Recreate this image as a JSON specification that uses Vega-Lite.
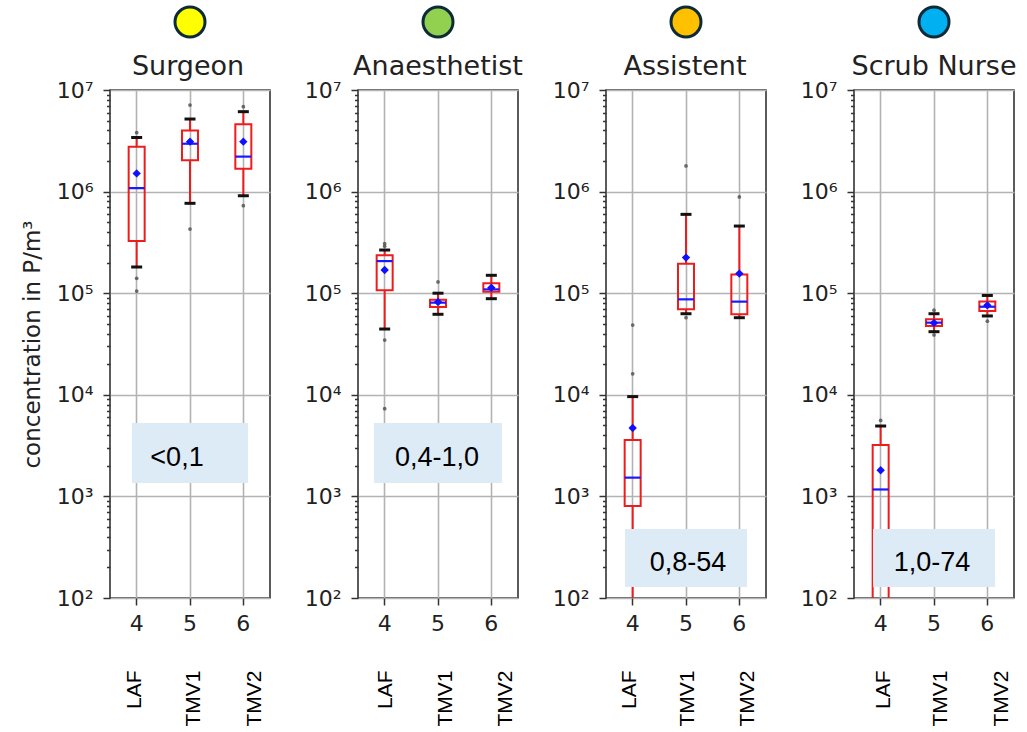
{
"$schema": "https://vega.github.io/schema/vega-lite/v6.json",
"background": "white",
"padding": {"left": 20, "top": 0, "right": 0, "bottom": 0},
"bounds": "flush",
"spacing": 88,
"datasets": {
"stats": [
{"role":"Surgeon","g":"4","lo":181000,"q1":327000,"med":1080000,"q3":2770000,"hi":3400000,"mean":1510000},
{"role":"Surgeon","g":"5","lo":767000,"q1":2030000,"med":2960000,"q3":4000000,"hi":5180000,"mean":3100000},
{"role":"Surgeon","g":"6","lo":910000,"q1":1680000,"med":2210000,"q3":4600000,"hi":6120000,"mean":3100000},
{"role":"Anaesthetist","g":"4","lo":44400,"q1":107000,"med":207000,"q3":236000,"hi":266000,"mean":169000},
{"role":"Anaesthetist","g":"5","lo":62000,"q1":73000,"med":80700,"q3":86300,"hi":100000,"mean":82000},
{"role":"Anaesthetist","g":"6","lo":88300,"q1":103500,"med":109000,"q3":125000,"hi":150000,"mean":113000},
{"role":"Assistent","g":"4","lo":30,"q1":805,"med":1530,"q3":3590,"hi":9600,"mean":4710},
{"role":"Assistent","g":"5","lo":62800,"q1":69400,"med":87000,"q3":195000,"hi":597000,"mean":224000},
{"role":"Assistent","g":"6","lo":57400,"q1":62000,"med":82600,"q3":153000,"hi":458000,"mean":156000},
{"role":"Scrub Nurse","g":"4","lo":10,"q1":60,"med":1170,"q3":3200,"hi":4930,"mean":1810},
{"role":"Scrub Nurse","g":"5","lo":41800,"q1":47500,"med":51300,"q3":55300,"hi":62800,"mean":51000},
{"role":"Scrub Nurse","g":"6","lo":59700,"q1":66800,"med":73600,"q3":82700,"hi":95000,"mean":76000}
],
"outliers": [
{"role":"Surgeon","g":"4","v":3800000},{"role":"Surgeon","g":"4","v":140000},{"role":"Surgeon","g":"4","v":105000},
{"role":"Surgeon","g":"5","v":7100000},{"role":"Surgeon","g":"5","v":428000},
{"role":"Surgeon","g":"6","v":6860000},{"role":"Surgeon","g":"6","v":726000},
{"role":"Anaesthetist","g":"4","v":307000},{"role":"Anaesthetist","g":"4","v":290000},{"role":"Anaesthetist","g":"4","v":34600},{"role":"Anaesthetist","g":"4","v":7300},
{"role":"Anaesthetist","g":"5","v":129000},
{"role":"Assistent","g":"4","v":48600},{"role":"Assistent","g":"4","v":16100},
{"role":"Assistent","g":"5","v":1790000},{"role":"Assistent","g":"5","v":57400},
{"role":"Assistent","g":"6","v":885000},
{"role":"Scrub Nurse","g":"4","v":5600},
{"role":"Scrub Nurse","g":"5","v":68000},{"role":"Scrub Nurse","g":"5","v":38800},
{"role":"Scrub Nurse","g":"6","v":53000}
],
"annot": [
{"role":"Surgeon","range":"<0,1"},
{"role":"Anaesthetist","range":"0,4-1,0"},
{"role":"Assistent","range":"0,8-54"},
{"role":"Scrub Nurse","range":"1,0-74"}
]
},
"config": {
"font": "DejaVu Sans",
"view": {"stroke": "#333333", "strokeWidth": 1.6},
"axis": {"domain": false, "labelFont": "DejaVu Sans", "labelFontSize": 22, "labelColor": "#222222", "tickColor": "#333333", "tickWidth": 1.5, "gridColor": "#b3b3b3", "gridWidth": 1.6, "titleFont": "DejaVu Sans", "titleFontWeight": "normal", "titleFontSize": 23, "titleColor": "#222222"}
},
"hconcat": [
{
"width": 160, "height": 508,
"layer": [
{"data": {"name": "stats"}, "transform": [{"filter": "datum.role==='Surgeon'"}],
 "mark": {"type": "rule", "color": "#ee1c1c", "strokeWidth": 2, "clip": true},
 "encoding": {
  "x": {"field": "g", "type": "nominal", "scale": {"type": "band", "domain": ["4","5","6"], "paddingInner": 0, "paddingOuter": 0},
        "axis": {"orient": "bottom", "labelAngle": 0, "title": null, "tickSize": 7, "labelPadding": 8, "bandPosition": 0.5, "grid": true}},
  "y": {"field": "lo", "type": "quantitative", "scale": {"type": "log", "domain": [100, 10000000], "nice": false},
        "axis": {"orient": "left", "values": [100,1000,10000,100000,1000000,10000000],
                 "labelExpr": "'10'+substring('⁰¹²³⁴⁵⁶⁷⁸⁹',round(log(datum.value)/LN10),round(log(datum.value)/LN10)+1)",
                 "labelOverlap": false, "labelFlush": false, "labelPadding": 10, "grid": true, "tickSize": 7,
                 "title": "concentration in P/m³", "titlePadding": 12}},
  "y2": {"field": "q1"}}},
{"data": {"name": "stats"}, "transform": [{"filter": "datum.role==='Surgeon'"}],
 "mark": {"type": "rule", "color": "#ee1c1c", "strokeWidth": 2, "clip": true},
 "encoding": {"x": {"field": "g", "type": "nominal", "axis": null},
  "y": {"field": "q3", "type": "quantitative", "axis": {"orient": "left", "values": [200,300,400,500,600,700,800,900,2000,3000,4000,5000,6000,7000,8000,9000,20000,30000,40000,50000,60000,70000,80000,90000,200000,300000,400000,500000,600000,700000,800000,900000,2000000,3000000,4000000,5000000,6000000,7000000,8000000,9000000], "labels": false, "grid": false, "tickSize": 3.5, "title": null}},
  "y2": {"field": "hi"}}},
{"data": {"name": "stats"}, "transform": [{"filter": "datum.role==='Surgeon'"}],
 "mark": {"type": "bar", "width": 16, "fill": "transparent", "stroke": "#ee1c1c", "strokeWidth": 2, "clip": true},
 "encoding": {"x": {"field": "g", "type": "nominal", "axis": null}, "y": {"field": "q1", "type": "quantitative", "axis": null}, "y2": {"field": "q3"}}},
{"data": {"name": "stats"}, "transform": [{"filter": "datum.role==='Surgeon'"}],
 "mark": {"type": "tick", "color": "#1a1aff", "thickness": 2.2, "size": 16, "opacity": 1, "clip": true},
 "encoding": {"x": {"field": "g", "type": "nominal", "axis": null}, "y": {"field": "med", "type": "quantitative", "axis": null}}},
{"data": {"name": "stats"}, "transform": [{"filter": "datum.role==='Surgeon'"}],
 "mark": {"type": "tick", "color": "#111111", "thickness": 3, "size": 11, "opacity": 1, "clip": true},
 "encoding": {"x": {"field": "g", "type": "nominal", "axis": null}, "y": {"field": "lo", "type": "quantitative", "axis": null}}},
{"data": {"name": "stats"}, "transform": [{"filter": "datum.role==='Surgeon'"}],
 "mark": {"type": "tick", "color": "#111111", "thickness": 3, "size": 11, "opacity": 1, "clip": true},
 "encoding": {"x": {"field": "g", "type": "nominal", "axis": null}, "y": {"field": "hi", "type": "quantitative", "axis": null}}},
{"data": {"name": "outliers"}, "transform": [{"filter": "datum.role==='Surgeon'"}],
 "mark": {"type": "circle", "color": "#555555", "size": 14, "opacity": 0.85},
 "encoding": {"x": {"field": "g", "type": "nominal", "axis": null}, "y": {"field": "v", "type": "quantitative", "axis": null}}},
{"data": {"name": "stats"}, "transform": [{"filter": "datum.role==='Surgeon'"}],
 "mark": {"type": "point", "shape": "diamond", "filled": true, "color": "#1010ff", "size": 70, "opacity": 1},
 "encoding": {"x": {"field": "g", "type": "nominal", "axis": null}, "y": {"field": "mean", "type": "quantitative", "axis": null}}},
{"data": {"name": "annot"}, "transform": [{"filter": "datum.role==='Surgeon'"}],
 "mark": {"type": "bar", "width": 116, "color": "#ddebf7"},
 "encoding": {"x": {"datum": "5", "type": "nominal", "axis": null}, "y": {"datum": 5272, "type": "quantitative", "axis": null}, "y2": {"datum": 1355}}},
{"data": {"name": "annot"}, "transform": [{"filter": "datum.role==='Surgeon'"}],
 "mark": {"type": "text", "font": "Liberation Sans", "fontSize": 27, "color": "#000000", "dx": -13},
 "encoding": {"x": {"datum": "5", "type": "nominal", "axis": null}, "y": {"datum": 2388, "type": "quantitative", "axis": null}, "text": {"field": "range"}}},
{"data": {"name": "annot"}, "transform": [{"filter": "datum.role==='Surgeon'"}],
 "mark": {"type": "text", "font": "DejaVu Sans", "fontSize": 27, "color": "#222222", "baseline": "alphabetic", "dx": -2},
 "encoding": {"x": {"datum": "5", "type": "nominal", "axis": null}, "y": {"datum": 14060000, "type": "quantitative", "axis": null}, "text": {"field": "role"}}},
{"data": {"name": "annot"}, "transform": [{"filter": "datum.role==='Surgeon'"}],
 "mark": {"type": "point", "shape": "circle", "filled": true, "fill": "#ffff00", "stroke": "#0c2a38", "strokeWidth": 3, "size": 900, "opacity": 1},
 "encoding": {"x": {"datum": "5", "type": "nominal", "axis": null}, "y": {"datum": 46700000, "type": "quantitative", "axis": null}}},
{"data": {"name": "stats"}, "transform": [{"filter": "datum.role==='Surgeon'"}],
 "mark": {"type": "point", "opacity": 0},
 "encoding": {"x": {"field": "g", "type": "nominal",
   "axis": {"orient": "bottom", "title": null, "ticks": false, "domain": false, "grid": false, "labelAngle": 270, "labelAlign": "right", "labelBaseline": "middle", "labelFont": "Liberation Sans", "labelFontSize": 21, "labelColor": "#000000", "labelPadding": 72, "bandPosition": 0.5,
     "labelExpr": "datum.value==='4' ? 'LAF' : datum.value==='5' ? 'TMV1' : 'TMV2'",
     "labelOffset": {"condition": [{"test": "datum.value==='4'", "value": -2}, {"test": "datum.value==='5'", "value": 4}], "value": 12}}}}}
],
"resolve": {"axis": {"x": "independent", "y": "independent"}}
},
{
"width": 160, "height": 508,
"layer": [
{"data": {"name": "stats"}, "transform": [{"filter": "datum.role==='Anaesthetist'"}],
 "mark": {"type": "rule", "color": "#ee1c1c", "strokeWidth": 2, "clip": true},
 "encoding": {
  "x": {"field": "g", "type": "nominal", "scale": {"type": "band", "domain": ["4","5","6"], "paddingInner": 0, "paddingOuter": 0},
        "axis": {"orient": "bottom", "labelAngle": 0, "title": null, "tickSize": 7, "labelPadding": 8, "bandPosition": 0.5, "grid": true}},
  "y": {"field": "lo", "type": "quantitative", "scale": {"type": "log", "domain": [100, 10000000], "nice": false},
        "axis": {"orient": "left", "values": [100,1000,10000,100000,1000000,10000000],
                 "labelExpr": "'10'+substring('⁰¹²³⁴⁵⁶⁷⁸⁹',round(log(datum.value)/LN10),round(log(datum.value)/LN10)+1)",
                 "labelOverlap": false, "labelFlush": false, "labelPadding": 10, "grid": true, "tickSize": 7, "title": null}},
  "y2": {"field": "q1"}}},
{"data": {"name": "stats"}, "transform": [{"filter": "datum.role==='Anaesthetist'"}],
 "mark": {"type": "rule", "color": "#ee1c1c", "strokeWidth": 2, "clip": true},
 "encoding": {"x": {"field": "g", "type": "nominal", "axis": null},
  "y": {"field": "q3", "type": "quantitative", "axis": {"orient": "left", "values": [200,300,400,500,600,700,800,900,2000,3000,4000,5000,6000,7000,8000,9000,20000,30000,40000,50000,60000,70000,80000,90000,200000,300000,400000,500000,600000,700000,800000,900000,2000000,3000000,4000000,5000000,6000000,7000000,8000000,9000000], "labels": false, "grid": false, "tickSize": 3.5, "title": null}},
  "y2": {"field": "hi"}}},
{"data": {"name": "stats"}, "transform": [{"filter": "datum.role==='Anaesthetist'"}],
 "mark": {"type": "bar", "width": 16, "fill": "transparent", "stroke": "#ee1c1c", "strokeWidth": 2, "clip": true},
 "encoding": {"x": {"field": "g", "type": "nominal", "axis": null}, "y": {"field": "q1", "type": "quantitative", "axis": null}, "y2": {"field": "q3"}}},
{"data": {"name": "stats"}, "transform": [{"filter": "datum.role==='Anaesthetist'"}],
 "mark": {"type": "tick", "color": "#1a1aff", "thickness": 2.2, "size": 16, "opacity": 1, "clip": true},
 "encoding": {"x": {"field": "g", "type": "nominal", "axis": null}, "y": {"field": "med", "type": "quantitative", "axis": null}}},
{"data": {"name": "stats"}, "transform": [{"filter": "datum.role==='Anaesthetist'"}],
 "mark": {"type": "tick", "color": "#111111", "thickness": 3, "size": 11, "opacity": 1, "clip": true},
 "encoding": {"x": {"field": "g", "type": "nominal", "axis": null}, "y": {"field": "lo", "type": "quantitative", "axis": null}}},
{"data": {"name": "stats"}, "transform": [{"filter": "datum.role==='Anaesthetist'"}],
 "mark": {"type": "tick", "color": "#111111", "thickness": 3, "size": 11, "opacity": 1, "clip": true},
 "encoding": {"x": {"field": "g", "type": "nominal", "axis": null}, "y": {"field": "hi", "type": "quantitative", "axis": null}}},
{"data": {"name": "outliers"}, "transform": [{"filter": "datum.role==='Anaesthetist'"}],
 "mark": {"type": "circle", "color": "#555555", "size": 14, "opacity": 0.85},
 "encoding": {"x": {"field": "g", "type": "nominal", "axis": null}, "y": {"field": "v", "type": "quantitative", "axis": null}}},
{"data": {"name": "stats"}, "transform": [{"filter": "datum.role==='Anaesthetist'"}],
 "mark": {"type": "point", "shape": "diamond", "filled": true, "color": "#1010ff", "size": 70, "opacity": 1},
 "encoding": {"x": {"field": "g", "type": "nominal", "axis": null}, "y": {"field": "mean", "type": "quantitative", "axis": null}}},
{"data": {"name": "annot"}, "transform": [{"filter": "datum.role==='Anaesthetist'"}],
 "mark": {"type": "bar", "width": 128, "color": "#ddebf7"},
 "encoding": {"x": {"datum": "5", "type": "nominal", "axis": null}, "y": {"datum": 5272, "type": "quantitative", "axis": null}, "y2": {"datum": 1355}}},
{"data": {"name": "annot"}, "transform": [{"filter": "datum.role==='Anaesthetist'"}],
 "mark": {"type": "text", "font": "Liberation Sans", "fontSize": 27, "color": "#000000", "dx": -1},
 "encoding": {"x": {"datum": "5", "type": "nominal", "axis": null}, "y": {"datum": 2388, "type": "quantitative", "axis": null}, "text": {"field": "range"}}},
{"data": {"name": "annot"}, "transform": [{"filter": "datum.role==='Anaesthetist'"}],
 "mark": {"type": "text", "font": "DejaVu Sans", "fontSize": 27, "color": "#222222", "baseline": "alphabetic", "dx": 0},
 "encoding": {"x": {"datum": "5", "type": "nominal", "axis": null}, "y": {"datum": 14060000, "type": "quantitative", "axis": null}, "text": {"field": "role"}}},
{"data": {"name": "annot"}, "transform": [{"filter": "datum.role==='Anaesthetist'"}],
 "mark": {"type": "point", "shape": "circle", "filled": true, "fill": "#92d050", "stroke": "#0c2a38", "strokeWidth": 3, "size": 900, "opacity": 1},
 "encoding": {"x": {"datum": "5", "type": "nominal", "axis": null}, "y": {"datum": 46700000, "type": "quantitative", "axis": null}}},
{"data": {"name": "stats"}, "transform": [{"filter": "datum.role==='Anaesthetist'"}],
 "mark": {"type": "point", "opacity": 0},
 "encoding": {"x": {"field": "g", "type": "nominal",
   "axis": {"orient": "bottom", "title": null, "ticks": false, "domain": false, "grid": false, "labelAngle": 270, "labelAlign": "right", "labelBaseline": "middle", "labelFont": "Liberation Sans", "labelFontSize": 21, "labelColor": "#000000", "labelPadding": 72, "bandPosition": 0.5,
     "labelExpr": "datum.value==='4' ? 'LAF' : datum.value==='5' ? 'TMV1' : 'TMV2'",
     "labelOffset": {"condition": [{"test": "datum.value==='4'", "value": 1}, {"test": "datum.value==='5'", "value": 8}], "value": 15}}}}}
],
"resolve": {"axis": {"x": "independent", "y": "independent"}}
},
{
"width": 160, "height": 508,
"layer": [
{"data": {"name": "stats"}, "transform": [{"filter": "datum.role==='Assistent'"}],
 "mark": {"type": "rule", "color": "#ee1c1c", "strokeWidth": 2, "clip": true},
 "encoding": {
  "x": {"field": "g", "type": "nominal", "scale": {"type": "band", "domain": ["4","5","6"], "paddingInner": 0, "paddingOuter": 0},
        "axis": {"orient": "bottom", "labelAngle": 0, "title": null, "tickSize": 7, "labelPadding": 8, "bandPosition": 0.5, "grid": true}},
  "y": {"field": "lo", "type": "quantitative", "scale": {"type": "log", "domain": [100, 10000000], "nice": false},
        "axis": {"orient": "left", "values": [100,1000,10000,100000,1000000,10000000],
                 "labelExpr": "'10'+substring('⁰¹²³⁴⁵⁶⁷⁸⁹',round(log(datum.value)/LN10),round(log(datum.value)/LN10)+1)",
                 "labelOverlap": false, "labelFlush": false, "labelPadding": 10, "grid": true, "tickSize": 7, "title": null}},
  "y2": {"field": "q1"}}},
{"data": {"name": "stats"}, "transform": [{"filter": "datum.role==='Assistent'"}],
 "mark": {"type": "rule", "color": "#ee1c1c", "strokeWidth": 2, "clip": true},
 "encoding": {"x": {"field": "g", "type": "nominal", "axis": null},
  "y": {"field": "q3", "type": "quantitative", "axis": {"orient": "left", "values": [200,300,400,500,600,700,800,900,2000,3000,4000,5000,6000,7000,8000,9000,20000,30000,40000,50000,60000,70000,80000,90000,200000,300000,400000,500000,600000,700000,800000,900000,2000000,3000000,4000000,5000000,6000000,7000000,8000000,9000000], "labels": false, "grid": false, "tickSize": 3.5, "title": null}},
  "y2": {"field": "hi"}}},
{"data": {"name": "stats"}, "transform": [{"filter": "datum.role==='Assistent'"}],
 "mark": {"type": "bar", "width": 16, "fill": "transparent", "stroke": "#ee1c1c", "strokeWidth": 2, "clip": true},
 "encoding": {"x": {"field": "g", "type": "nominal", "axis": null}, "y": {"field": "q1", "type": "quantitative", "axis": null}, "y2": {"field": "q3"}}},
{"data": {"name": "stats"}, "transform": [{"filter": "datum.role==='Assistent'"}],
 "mark": {"type": "tick", "color": "#1a1aff", "thickness": 2.2, "size": 16, "opacity": 1, "clip": true},
 "encoding": {"x": {"field": "g", "type": "nominal", "axis": null}, "y": {"field": "med", "type": "quantitative", "axis": null}}},
{"data": {"name": "stats"}, "transform": [{"filter": "datum.role==='Assistent'"}],
 "mark": {"type": "tick", "color": "#111111", "thickness": 3, "size": 11, "opacity": 1, "clip": true},
 "encoding": {"x": {"field": "g", "type": "nominal", "axis": null}, "y": {"field": "lo", "type": "quantitative", "axis": null}}},
{"data": {"name": "stats"}, "transform": [{"filter": "datum.role==='Assistent'"}],
 "mark": {"type": "tick", "color": "#111111", "thickness": 3, "size": 11, "opacity": 1, "clip": true},
 "encoding": {"x": {"field": "g", "type": "nominal", "axis": null}, "y": {"field": "hi", "type": "quantitative", "axis": null}}},
{"data": {"name": "outliers"}, "transform": [{"filter": "datum.role==='Assistent'"}],
 "mark": {"type": "circle", "color": "#555555", "size": 14, "opacity": 0.85},
 "encoding": {"x": {"field": "g", "type": "nominal", "axis": null}, "y": {"field": "v", "type": "quantitative", "axis": null}}},
{"data": {"name": "stats"}, "transform": [{"filter": "datum.role==='Assistent'"}],
 "mark": {"type": "point", "shape": "diamond", "filled": true, "color": "#1010ff", "size": 70, "opacity": 1},
 "encoding": {"x": {"field": "g", "type": "nominal", "axis": null}, "y": {"field": "mean", "type": "quantitative", "axis": null}}},
{"data": {"name": "annot"}, "transform": [{"filter": "datum.role==='Assistent'"}],
 "mark": {"type": "bar", "width": 122, "color": "#ddebf7"},
 "encoding": {"x": {"datum": "5", "type": "nominal", "axis": null}, "y": {"datum": 478, "type": "quantitative", "axis": null}, "y2": {"datum": 128}}},
{"data": {"name": "annot"}, "transform": [{"filter": "datum.role==='Assistent'"}],
 "mark": {"type": "text", "font": "Liberation Sans", "fontSize": 27, "color": "#000000", "dx": 2},
 "encoding": {"x": {"datum": "5", "type": "nominal", "axis": null}, "y": {"datum": 221, "type": "quantitative", "axis": null}, "text": {"field": "range"}}},
{"data": {"name": "annot"}, "transform": [{"filter": "datum.role==='Assistent'"}],
 "mark": {"type": "text", "font": "DejaVu Sans", "fontSize": 27, "color": "#222222", "baseline": "alphabetic", "dx": -1},
 "encoding": {"x": {"datum": "5", "type": "nominal", "axis": null}, "y": {"datum": 14060000, "type": "quantitative", "axis": null}, "text": {"field": "role"}}},
{"data": {"name": "annot"}, "transform": [{"filter": "datum.role==='Assistent'"}],
 "mark": {"type": "point", "shape": "circle", "filled": true, "fill": "#ffc000", "stroke": "#0c2a38", "strokeWidth": 3, "size": 900, "opacity": 1},
 "encoding": {"x": {"datum": "5", "type": "nominal", "axis": null}, "y": {"datum": 46700000, "type": "quantitative", "axis": null}}},
{"data": {"name": "stats"}, "transform": [{"filter": "datum.role==='Assistent'"}],
 "mark": {"type": "point", "opacity": 0},
 "encoding": {"x": {"field": "g", "type": "nominal",
   "axis": {"orient": "bottom", "title": null, "ticks": false, "domain": false, "grid": false, "labelAngle": 270, "labelAlign": "right", "labelBaseline": "middle", "labelFont": "Liberation Sans", "labelFontSize": 21, "labelColor": "#000000", "labelPadding": 72, "bandPosition": 0.5,
     "labelExpr": "datum.value==='4' ? 'LAF' : datum.value==='5' ? 'TMV1' : 'TMV2'",
     "labelOffset": {"condition": [{"test": "datum.value==='4'", "value": -3}, {"test": "datum.value==='5'", "value": 2}], "value": 9}}}}}
],
"resolve": {"axis": {"x": "independent", "y": "independent"}}
},
{
"width": 160, "height": 508,
"layer": [
{"data": {"name": "stats"}, "transform": [{"filter": "datum.role==='Scrub Nurse'"}],
 "mark": {"type": "rule", "color": "#ee1c1c", "strokeWidth": 2, "clip": true},
 "encoding": {
  "x": {"field": "g", "type": "nominal", "scale": {"type": "band", "domain": ["4","5","6"], "paddingInner": 0, "paddingOuter": 0},
        "axis": {"orient": "bottom", "labelAngle": 0, "title": null, "tickSize": 7, "labelPadding": 8, "bandPosition": 0.5, "grid": true}},
  "y": {"field": "lo", "type": "quantitative", "scale": {"type": "log", "domain": [100, 10000000], "nice": false},
        "axis": {"orient": "left", "values": [100,1000,10000,100000,1000000,10000000],
                 "labelExpr": "'10'+substring('⁰¹²³⁴⁵⁶⁷⁸⁹',round(log(datum.value)/LN10),round(log(datum.value)/LN10)+1)",
                 "labelOverlap": false, "labelFlush": false, "labelPadding": 10, "grid": true, "tickSize": 7, "title": null}},
  "y2": {"field": "q1"}}},
{"data": {"name": "stats"}, "transform": [{"filter": "datum.role==='Scrub Nurse'"}],
 "mark": {"type": "rule", "color": "#ee1c1c", "strokeWidth": 2, "clip": true},
 "encoding": {"x": {"field": "g", "type": "nominal", "axis": null},
  "y": {"field": "q3", "type": "quantitative", "axis": {"orient": "left", "values": [200,300,400,500,600,700,800,900,2000,3000,4000,5000,6000,7000,8000,9000,20000,30000,40000,50000,60000,70000,80000,90000,200000,300000,400000,500000,600000,700000,800000,900000,2000000,3000000,4000000,5000000,6000000,7000000,8000000,9000000], "labels": false, "grid": false, "tickSize": 3.5, "title": null}},
  "y2": {"field": "hi"}}},
{"data": {"name": "stats"}, "transform": [{"filter": "datum.role==='Scrub Nurse'"}],
 "mark": {"type": "bar", "width": 16, "fill": "transparent", "stroke": "#ee1c1c", "strokeWidth": 2, "clip": true},
 "encoding": {"x": {"field": "g", "type": "nominal", "axis": null}, "y": {"field": "q1", "type": "quantitative", "axis": null}, "y2": {"field": "q3"}}},
{"data": {"name": "stats"}, "transform": [{"filter": "datum.role==='Scrub Nurse'"}],
 "mark": {"type": "tick", "color": "#1a1aff", "thickness": 2.2, "size": 16, "opacity": 1, "clip": true},
 "encoding": {"x": {"field": "g", "type": "nominal", "axis": null}, "y": {"field": "med", "type": "quantitative", "axis": null}}},
{"data": {"name": "stats"}, "transform": [{"filter": "datum.role==='Scrub Nurse'"}],
 "mark": {"type": "tick", "color": "#111111", "thickness": 3, "size": 11, "opacity": 1, "clip": true},
 "encoding": {"x": {"field": "g", "type": "nominal", "axis": null}, "y": {"field": "lo", "type": "quantitative", "axis": null}}},
{"data": {"name": "stats"}, "transform": [{"filter": "datum.role==='Scrub Nurse'"}],
 "mark": {"type": "tick", "color": "#111111", "thickness": 3, "size": 11, "opacity": 1, "clip": true},
 "encoding": {"x": {"field": "g", "type": "nominal", "axis": null}, "y": {"field": "hi", "type": "quantitative", "axis": null}}},
{"data": {"name": "outliers"}, "transform": [{"filter": "datum.role==='Scrub Nurse'"}],
 "mark": {"type": "circle", "color": "#555555", "size": 14, "opacity": 0.85},
 "encoding": {"x": {"field": "g", "type": "nominal", "axis": null}, "y": {"field": "v", "type": "quantitative", "axis": null}}},
{"data": {"name": "stats"}, "transform": [{"filter": "datum.role==='Scrub Nurse'"}],
 "mark": {"type": "point", "shape": "diamond", "filled": true, "color": "#1010ff", "size": 70, "opacity": 1},
 "encoding": {"x": {"field": "g", "type": "nominal", "axis": null}, "y": {"field": "mean", "type": "quantitative", "axis": null}}},
{"data": {"name": "annot"}, "transform": [{"filter": "datum.role==='Scrub Nurse'"}],
 "mark": {"type": "bar", "width": 122, "color": "#ddebf7"},
 "encoding": {"x": {"datum": "5", "type": "nominal", "axis": null}, "y": {"datum": 478, "type": "quantitative", "axis": null}, "y2": {"datum": 128}}},
{"data": {"name": "annot"}, "transform": [{"filter": "datum.role==='Scrub Nurse'"}],
 "mark": {"type": "text", "font": "Liberation Sans", "fontSize": 27, "color": "#000000", "dx": -2},
 "encoding": {"x": {"datum": "5", "type": "nominal", "axis": null}, "y": {"datum": 221, "type": "quantitative", "axis": null}, "text": {"field": "range"}}},
{"data": {"name": "annot"}, "transform": [{"filter": "datum.role==='Scrub Nurse'"}],
 "mark": {"type": "text", "font": "DejaVu Sans", "fontSize": 27, "color": "#222222", "baseline": "alphabetic", "dx": 0},
 "encoding": {"x": {"datum": "5", "type": "nominal", "axis": null}, "y": {"datum": 14060000, "type": "quantitative", "axis": null}, "text": {"field": "role"}}},
{"data": {"name": "annot"}, "transform": [{"filter": "datum.role==='Scrub Nurse'"}],
 "mark": {"type": "point", "shape": "circle", "filled": true, "fill": "#00b0f0", "stroke": "#0c2a38", "strokeWidth": 3, "size": 900, "opacity": 1},
 "encoding": {"x": {"datum": "5", "type": "nominal", "axis": null}, "y": {"datum": 46700000, "type": "quantitative", "axis": null}}},
{"data": {"name": "stats"}, "transform": [{"filter": "datum.role==='Scrub Nurse'"}],
 "mark": {"type": "point", "opacity": 0},
 "encoding": {"x": {"field": "g", "type": "nominal",
   "axis": {"orient": "bottom", "title": null, "ticks": false, "domain": false, "grid": false, "labelAngle": 270, "labelAlign": "right", "labelBaseline": "middle", "labelFont": "Liberation Sans", "labelFontSize": 21, "labelColor": "#000000", "labelPadding": 72, "bandPosition": 0.5,
     "labelExpr": "datum.value==='4' ? 'LAF' : datum.value==='5' ? 'TMV1' : 'TMV2'",
     "labelOffset": {"condition": [{"test": "datum.value==='4'", "value": 3}, {"test": "datum.value==='5'", "value": 7}], "value": 15}}}}}
],
"resolve": {"axis": {"x": "independent", "y": "independent"}}
}
]
}
